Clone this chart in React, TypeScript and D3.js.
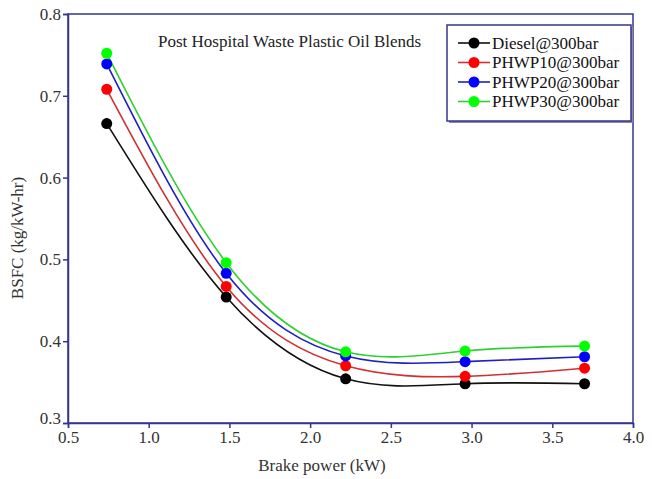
import { useEffect, useRef } from 'react';
import * as d3 from 'd3';

// Brake power (kW)
const brakePower = [0.74, 1.48, 2.22, 2.96, 3.7];

// BSFC (kg/kW-hr) per blend
const diesel = [0.666, 0.454, 0.354, 0.348, 0.348];
const phwp10 = [0.708, 0.467, 0.37, 0.357, 0.367];
const phwp20 = [0.739, 0.483, 0.382, 0.375, 0.381];
const phwp30 = [0.752, 0.496, 0.387, 0.388, 0.394];

const seriesNames = ['Diesel@300bar', 'PHWP10@300bar', 'PHWP20@300bar', 'PHWP30@300bar'];
const seriesColors = ['#000000', '#ff0000', '#0000ff', '#00ff00'];
const lineColors = ['#111111', '#d03030', '#2020c0', '#30d030'];

const xTicks = [0.5, 1.0, 1.5, 2.0, 2.5, 3.0, 3.5, 4.0];
const yTicks = [0.3, 0.4, 0.5, 0.6, 0.7, 0.8];

const AXIS = '#353590';
const FONT = '"Liberation Serif", "Times New Roman", serif';

export default function App() {
  const svgRef = useRef<SVGSVGElement>(null);
  const width = 652;
  const height = 479;

  useEffect(() => {
    if (!svgRef.current) return;
    const svg = d3.select(svgRef.current);
    svg.selectAll('*').remove();

    const margin = { top: 14, right: 19, bottom: 56, left: 68 };
    const innerWidth = width - margin.left - margin.right;
    const innerHeight = height - margin.top - margin.bottom;

    svg.append('rect').attr('width', width).attr('height', height).attr('fill', '#fff');

    const g = svg.append('g').attr('transform', `translate(${margin.left},${margin.top})`);

    const x = d3.scaleLinear().domain([0.5, 4.0]).range([0, innerWidth]);
    const y = d3.scaleLinear().domain([0.3, 0.8]).range([innerHeight, 0]);

    // Frame
    g.append('rect')
      .attr('width', innerWidth)
      .attr('height', innerHeight)
      .attr('fill', 'none')
      .attr('stroke', AXIS)
      .attr('stroke-width', 1.5);

    // X axis
    const xAxis = g
      .append('g')
      .attr('transform', `translate(0,${innerHeight})`)
      .call(d3.axisBottom(x).tickValues(xTicks).tickFormat(d3.format('.1f')).tickSize(5).tickPadding(3));
    xAxis.select('.domain').attr('stroke', AXIS).attr('stroke-width', 1.5);
    xAxis.selectAll('.tick line').attr('stroke', AXIS).attr('stroke-width', 1.5);
    xAxis.selectAll('text').attr('fill', '#333').attr('font-size', 17).attr('font-family', FONT);

    // Y axis
    const yAxis = g
      .append('g')
      .call(d3.axisLeft(y).tickValues(yTicks).tickFormat(d3.format('.1f')).tickSize(5).tickPadding(2));
    yAxis.select('.domain').attr('stroke', AXIS).attr('stroke-width', 1.5);
    yAxis.selectAll('.tick line').attr('stroke', AXIS).attr('stroke-width', 1.5);
    yAxis.selectAll('text').attr('fill', '#333').attr('font-size', 17).attr('font-family', FONT);
    yAxis.selectAll('.tick')
      .filter((d) => d === 0.3)
      .select('text')
      .attr('dy', '0.05em');

    // Axis labels
    svg.append('text')
      .attr('x', 322)
      .attr('y', 471)
      .attr('text-anchor', 'middle')
      .attr('fill', '#333')
      .attr('font-size', 17)
      .attr('font-family', FONT)
      .text('Brake power (kW)');

    svg.append('text')
      .attr('transform', 'rotate(-90)')
      .attr('x', -238)
      .attr('y', 23)
      .attr('text-anchor', 'middle')
      .attr('fill', '#333')
      .attr('font-size', 17)
      .attr('font-family', FONT)
      .text('BSFC (kg/kW-hr)');

    // Title
    svg.append('text')
      .attr('x', 158)
      .attr('y', 47)
      .attr('fill', '#222')
      .attr('font-size', 17)
      .attr('font-family', FONT)
      .text('Post Hospital Waste Plastic Oil Blends');

    const allSeries = [diesel, phwp10, phwp20, phwp30];
    const line = d3
      .line<number>()
      .x((_, i) => x(brakePower[i]))
      .y((d) => y(d))
      .curve(d3.curveNatural);

    allSeries.forEach((vals, si) => {
      g.append('path')
        .datum(vals)
        .attr('d', line)
        .attr('fill', 'none')
        .attr('stroke', lineColors[si])
        .attr('stroke-width', 1.6);
    });

    allSeries.forEach((vals, si) => {
      g.selectAll(`circle.s${si}`)
        .data(vals)
        .join('circle')
        .attr('class', `s${si}`)
        .attr('cx', (_, i) => x(brakePower[i]))
        .attr('cy', (d) => y(d))
        .attr('r', 5.5)
        .attr('fill', seriesColors[si]);
    });

    // Legend
    const lg = svg.append('g').attr('transform', 'translate(447,25)');
    lg.append('rect')
      .attr('x', 2)
      .attr('y', 2)
      .attr('width', 184)
      .attr('height', 96)
      .attr('fill', '#8a8a9a');
    lg.append('rect')
      .attr('width', 184)
      .attr('height', 96)
      .attr('fill', '#fff')
      .attr('stroke', AXIS)
      .attr('stroke-width', 1.5);

    seriesNames.forEach((name, i) => {
      const ry = 18 + i * 19.5;
      lg.append('line')
        .attr('x1', 11)
        .attr('x2', 43)
        .attr('y1', ry)
        .attr('y2', ry)
        .attr('stroke', lineColors[i])
        .attr('stroke-width', 1.6);
      lg.append('circle').attr('cx', 27).attr('cy', ry).attr('r', 5.5).attr('fill', seriesColors[i]);
      lg.append('text')
        .attr('x', 45)
        .attr('y', ry + 5.5)
        .attr('fill', '#111')
        .attr('font-size', 17)
        .attr('font-family', FONT)
        .text(name);
    });
  }, []);

  return (
    <svg
      ref={svgRef}
      width={width}
      height={height}
      style={{ position: 'absolute', left: 0, top: 0 }}
    />
  );
}
